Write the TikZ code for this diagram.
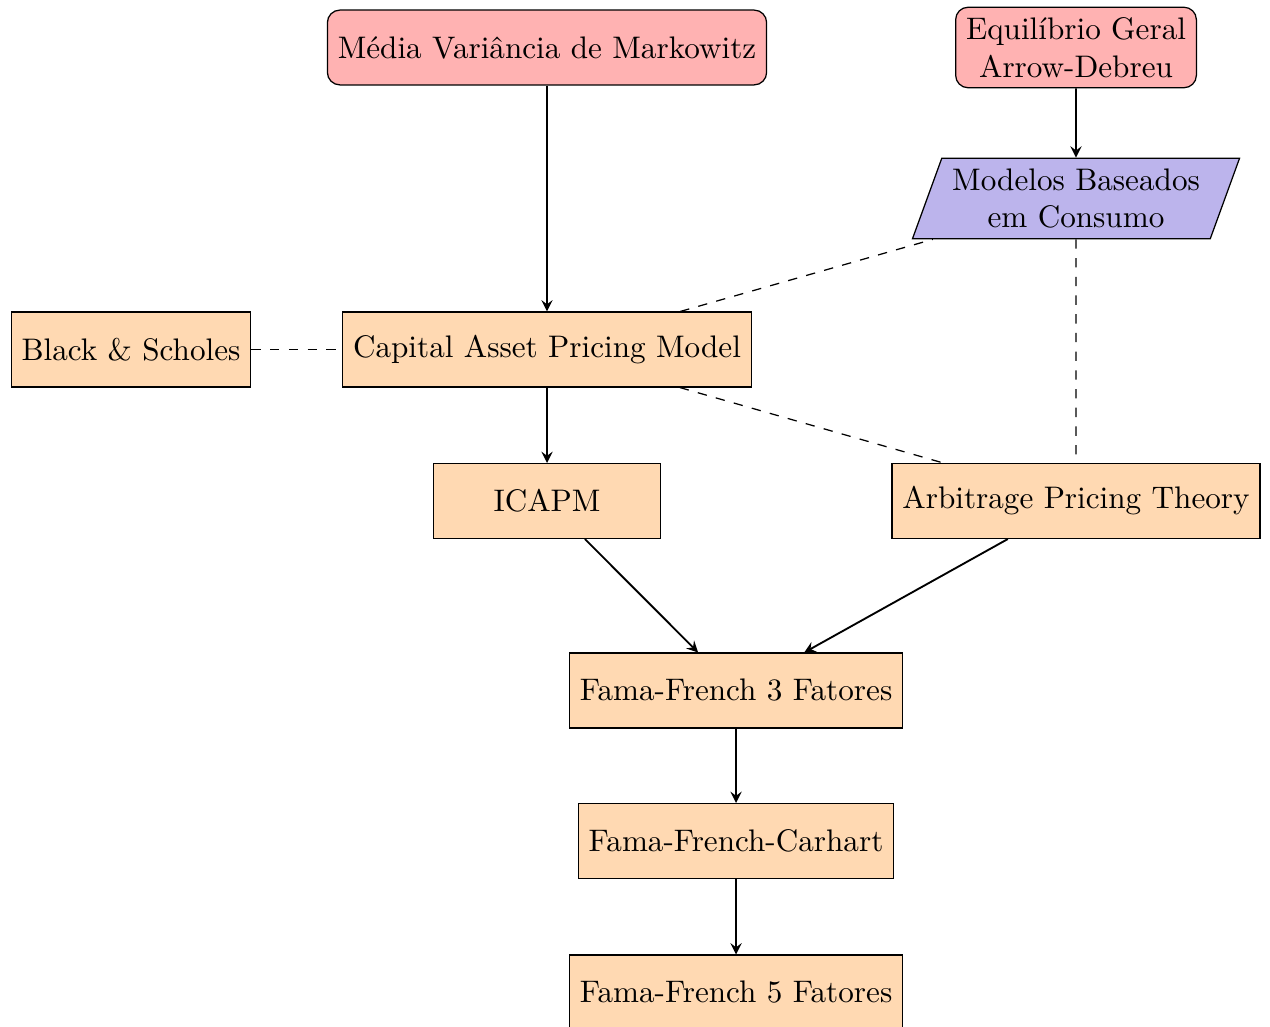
\documentclass[tikz,border=0pt]{standalone}
\usepackage{amsmath}
\usepackage{tikz}
\usetikzlibrary{shapes.geometric,arrows}

\definecolor{lilas}{RGB}{188,180,236}

\begin{document}
\begin{tikzpicture}[x=0.3208pt,y=-0.3208pt,
    base/.style={draw,minimum height=24pt,align=center},
    origem/.style={base,rounded corners=4pt,fill=red!30},
    modelo/.style={base,fill=orange!30},
    consumo/.style={base,trapezium,trapezium left angle=70,trapezium right angle=110,fill=lilas},
    seta/.style={semithick,-stealth},
    liga/.style={dashed}]
    \useasboundingbox (0,0) rectangle (1270,1026);
    \node[origem] (markowitz) at (547,47.5) {Média Variância de Markowitz};
    \node[origem] (arrow) at (1076,47.5) {Equilíbrio Geral\\Arrow-Debreu};
    \node[consumo] (consumo) at (1076,198.5) {Modelos Baseados\\em Consumo};
    \node[modelo] (bs) at (131,349.5) {Black \& Scholes};
    \node[modelo] (capm) at (547,349.5) {Capital Asset Pricing Model};
    \node[modelo,minimum width=72.8pt] (icapm) at (547,501) {ICAPM};
    \node[modelo] (apt) at (1076,501) {Arbitrage Pricing Theory};
    \node[modelo] (ff3) at (736,690.5) {Fama-French 3 Fatores};
    \node[modelo] (ffc) at (736,841) {Fama-French-Carhart};
    \node[modelo] (ff5) at (736,992.5) {Fama-French 5 Fatores};
    % setas
    \draw[seta] (markowitz) -- (capm);
    \draw[seta] (arrow) -- (consumo);
    \draw[seta] (capm) -- (icapm);
    \draw[seta] (icapm) -- (ff3);
    \draw[seta] (apt) -- (ff3);
    \draw[seta] (ff3) -- (ffc);
    \draw[seta] (ffc) -- (ff5);
    % ligacoes tracejadas
    \draw[liga] (bs) -- (capm);
    \draw[liga] (capm) -- (consumo);
    \draw[liga] (capm) -- (apt);
    \draw[liga,shorten >=2.5pt] (consumo) -- (apt);
\end{tikzpicture}
\end{document}
